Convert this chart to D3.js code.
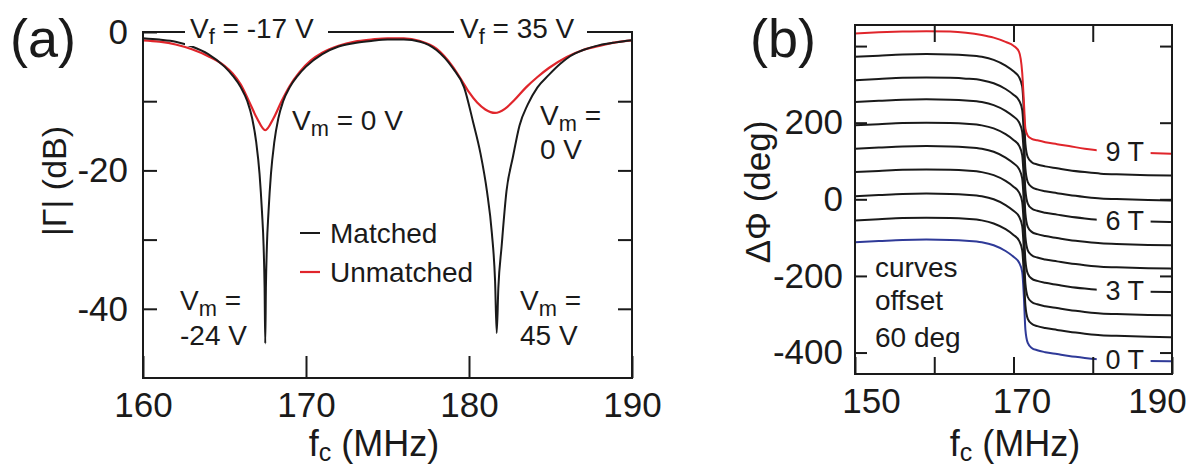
<!DOCTYPE html>
<html><head><meta charset="utf-8">
<script src="https://cdn.jsdelivr.net/npm/d3@7"></script>
<style>body{margin:0;background:#fff} svg{display:block}</style>
</head><body><svg id="c" width="1195" height="472"></svg>
<script>
// ---------- data: panel (a) reflection coefficient ----------
const fMatched = [160,161,162,163,164,165,165.5,166,166.4,166.7,166.95,167.15,167.3,167.4,167.46,167.5,167.54,167.6,167.7,167.85,168.05,168.3,168.6,169,169.5,170,171,172,173,174,175,176,177,178,179,179.7,180.25,180.7,181.1,181.4,181.6,181.7,181.8,182,182.3,182.7,183.1,183.6,184.2,184.9,185.6,186.2,187,188,189,190];
const gammaMatched = [-0.9,-1.1,-1.4,-2.1,-3.2,-5.0,-6.3,-8.0,-10.0,-12.5,-16,-20.5,-26,-31,-37,-45,-37,-31,-26,-20.5,-16,-12.5,-10.0,-8.0,-6.3,-5.0,-3.2,-2.1,-1.6,-1.3,-1.1,-1.1,-1.4,-2.6,-5.2,-8,-13,-17.5,-23,-29,-36,-43.5,-37,-31,-23,-18,-13.5,-10.5,-8,-6.2,-4.6,-3.5,-2.6,-1.9,-1.5,-1.2];
const fUnmatched = [160,161,162,163,164,165,165.5,166,166.5,167,167.5,168,168.5,169,169.6,170.3,171,172,173,174,175,176,177,178,179,179.5,180,180.5,181,181.6,182.2,182.8,183.5,184.2,184.9,186,187,188,189,190];
const gammaUnmatched = [-1.2,-1.4,-1.8,-2.5,-3.5,-4.9,-6.0,-7.6,-10.0,-12.5,-14.2,-12.5,-10.0,-7.8,-5.8,-4.1,-3.0,-2.0,-1.4,-1.1,-0.9,-0.9,-1.3,-2.4,-5.0,-6.8,-8.7,-10.2,-11.2,-11.7,-11.1,-9.8,-8.0,-6.5,-5.2,-3.6,-2.6,-2.0,-1.5,-1.2];
const aXTicks = [160,170,180,190];
const aYTicks = [0,-10,-20,-30,-40];
const aYLabels = [0,-20,-40];

// ---------- data: panel (b) phase shift vs field ----------
const fB = [150,153,156,159,162,164,166,167.5,169,170,170.7,171.1,171.3,171.5,171.8,172.3,173,174,175.5,177,179,181,184,187,190];
const phase0T = [-112,-109,-106,-105,-106,-108,-112,-120,-135,-150,-165,-190,-250,-340,-375,-388,-394,-399,-404,-409,-414,-418,-420,-422,-423];
const phase1T = [-55,-52,-49,-48,-49,-51,-55,-63,-78,-93,-108,-133,-193,-277,-312,-325,-331,-336,-341,-346,-351,-355,-357,-359,-360];
const phase2T = [8,11,14,15,14,12,8,0,-15,-30,-45,-70,-130,-220,-255,-268,-274,-279,-284,-289,-294,-298,-300,-302,-303];
const phase3T = [71,74,77,78,77,75,71,63,48,33,18,-7,-67,-159,-194,-207,-213,-218,-223,-228,-233,-237,-239,-241,-242];
const phase4T = [132,135,138,139,138,136,132,124,109,94,79,54,-6,-98,-133,-146,-152,-157,-162,-167,-172,-176,-178,-180,-181];
const phase5T = [193,196,199,200,199,197,193,185,170,155,140,115,55,-37,-72,-85,-91,-96,-101,-106,-111,-115,-117,-119,-120];
const phase6T = [254,257,260,261,260,258,254,246,231,216,201,176,116,24,-11,-24,-30,-35,-40,-45,-50,-54,-56,-58,-59];
const phase7T = [311,314,317,318,317,315,311,303,288,273,258,233,173,80,45,32,26,21,16,11,6,2,0,-2,-3];
const phase8T = [372,375,378,379,378,376,372,364,349,334,319,294,234,145,110,97,91,86,81,76,71,67,65,63,62];
const phase9T = [433,436,438,439,438,435,429,422,411,401,385,330,260,185,166,158,154,149,144,139,132,127,124,121,119];
const phaseSeries = [phase0T,phase1T,phase2T,phase3T,phase4T,phase5T,phase6T,phase7T,phase8T,phase9T];
const fieldLabels = ["0 T","3 T","6 T","9 T"];
const fieldLabelIdx = [0,3,6,9];
const bXTicks = [150,160,170,180,190];
const bXLabels = [150,170,190];
const bYTicks = [400,200,0,-200,-400];
const bYLabels = [200,0,-200,-400];

// ---------- drawing ----------
const FONT = '"Liberation Sans", Arial, Helvetica, sans-serif';
const INK = "#1a1a1a", RED = "#e0252b", BLUE = "#2f3a98";
const svg = d3.select("#c");

function styleAxis(g, fs){
  g.select(".domain").remove();
  g.selectAll(".tick line").attr("stroke", INK).attr("stroke-width", 2);
  g.selectAll(".tick text").attr("font-family", FONT).attr("font-size", fs).attr("fill", INK);
  return g;
}
function txt(g, x, y, s, fs, anchor){
  return g.append("text").attr("x", x).attr("y", y).attr("font-family", FONT)
    .attr("font-size", fs).attr("fill", INK).attr("text-anchor", anchor || "start").text(s);
}
function subText(g, x, y, main, sub, rest, fs, anchor){
  const t = g.append("text").attr("x", x).attr("y", y).attr("font-family", FONT)
    .attr("font-size", fs).attr("fill", INK).attr("text-anchor", anchor || "start");
  t.append("tspan").text(main);
  t.append("tspan").attr("font-size", fs*0.78).attr("dy", fs*0.22).text(sub);
  t.append("tspan").attr("dy", -fs*0.22).text(rest);
  return t;
}

// ===== Panel (a) =====
const xa = d3.scaleLinear().domain([160,190]).range([143,632]);
const ya = d3.scaleLinear().domain([-50,0]).range([378,32]);
const ga = svg.append("g");
const lineA = d3.line().x(d=>xa(d[0])).y(d=>ya(d[1])).curve(d3.curveMonotoneX);
ga.append("path").datum(fUnmatched.map((f,i)=>[f,gammaUnmatched[i]]))
  .attr("d", lineA).attr("fill","none").attr("stroke",RED).attr("stroke-width",2.2);
ga.append("path").datum(fMatched.map((f,i)=>[f,gammaMatched[i]]))
  .attr("d", lineA).attr("fill","none").attr("stroke",INK).attr("stroke-width",2);

ga.append("rect").attr("x",xa(160)).attr("y",ya(0)).attr("width",xa(190)-xa(160)).attr("height",ya(-50)-ya(0))
  .attr("fill","none").attr("stroke",INK).attr("stroke-width",2);
styleAxis(ga.append("g").attr("transform",`translate(${xa(160)},0)`)
  .call(d3.axisLeft(ya).tickValues(aYTicks).tickFormat(d=>aYLabels.includes(d)?String(d):"")
  .tickSizeInner(-14).tickSizeOuter(0).tickPadding(15)), 35);
styleAxis(ga.append("g").attr("transform",`translate(${xa(190)},0)`)
  .call(d3.axisRight(ya).tickValues(aYTicks.filter(d=>d!==0)).tickFormat("")
  .tickSizeInner(-14).tickSizeOuter(0)), 35);
styleAxis(ga.append("g").attr("transform",`translate(0,${ya(-50)})`)
  .call(d3.axisBottom(xa).tickValues(aXTicks).tickFormat(d=>String(d))
  .tickSizeInner(-22).tickSizeOuter(0).tickPadding(14)), 35);

ga.append("rect").attr("x",185).attr("y",16).attr("width",143).attr("height",30).attr("fill","#fff");
subText(ga, 190, 38, "V", "f", " = -17 V", 28);
ga.append("rect").attr("x",454).attr("y",16).attr("width",133).attr("height",30).attr("fill","#fff");
subText(ga, 460, 38, "V", "f", " = 35 V", 28);

subText(ga, 292, 130, "V", "m", " = 0 V", 28);
subText(ga, 540, 125, "V", "m", " =", 28);
txt(ga, 540, 159, "0 V", 28);
subText(ga, 180, 310, "V", "m", " =", 28);
txt(ga, 180, 345, "-24 V", 28);
subText(ga, 520, 310, "V", "m", " =", 28);
txt(ga, 520, 345, "45 V", 28);

ga.append("line").attr("x1",300).attr("x2",320).attr("y1",233).attr("y2",233).attr("stroke",INK).attr("stroke-width",2);
txt(ga, 330, 243, "Matched", 28);
ga.append("line").attr("x1",300).attr("x2",320).attr("y1",272).attr("y2",272).attr("stroke",RED).attr("stroke-width",2.2);
txt(ga, 330, 282, "Unmatched", 28);

const tA = ga.append("text").attr("x",374).attr("y",456).attr("font-family",FONT).attr("font-size",36).attr("fill",INK).attr("text-anchor","middle");
tA.append("tspan").text("f");
tA.append("tspan").attr("font-size",25).attr("dy",5).text("c");
tA.append("tspan").attr("dy",-5).text(" (MHz)");
ga.append("text").attr("transform","translate(66,181) rotate(-90)").attr("font-family",FONT).attr("font-size",34)
  .attr("fill",INK).attr("text-anchor","middle").text("|\u0393| (dB)");
txt(ga, 10, 57, "(a)", 54);

// ===== Panel (b) =====
const xb = d3.scaleLinear().domain([150,190]).range([855,1172]);
const yb = d3.scaleLinear().domain([-456,455]).range([374,25]);
const gb = svg.append("g");
const lineB = d3.line().x(d=>xb(d[0])).y(d=>yb(d[1])).curve(d3.curveMonotoneX);
phaseSeries.forEach((s,k)=>{
  gb.append("path").datum(fB.map((f,i)=>[f,s[i]])).attr("d", lineB).attr("fill","none")
    .attr("stroke", k===9?RED:(k===0?BLUE:INK)).attr("stroke-width",2);
});
fieldLabelIdx.forEach((k,j)=>{
  const yv = yb(phaseSeries[k][fB.indexOf(181)]);
  const yEnd = yb(phaseSeries[k][phaseSeries[k].length-1]);
  const yc = (yv+yEnd)/2;
  gb.append("rect").attr("x",xb(180.5)).attr("y",yc-16).attr("width",xb(187.3)-xb(180.5)).attr("height",30).attr("fill","#fff");
  txt(gb, xb(181.6), yc+9, fieldLabels[j], 27);
});

gb.append("rect").attr("x",xb(150)).attr("y",yb(455)).attr("width",xb(190)-xb(150)).attr("height",yb(-456)-yb(455))
  .attr("fill","none").attr("stroke",INK).attr("stroke-width",2);
styleAxis(gb.append("g").attr("transform",`translate(${xb(150)},0)`)
  .call(d3.axisLeft(yb).tickValues(bYTicks).tickFormat(d=>bYLabels.includes(d)?String(d):"")
  .tickSizeInner(-12).tickSizeOuter(0).tickPadding(12)), 35);
styleAxis(gb.append("g").attr("transform",`translate(${xb(190)},0)`)
  .call(d3.axisRight(yb).tickValues(bYTicks).tickFormat("").tickSizeInner(-12).tickSizeOuter(0)), 35);
const bxAxis = styleAxis(gb.append("g").attr("transform",`translate(0,${yb(-456)})`)
  .call(d3.axisBottom(xb).tickValues(bXTicks).tickFormat(d=>bXLabels.includes(d)?String(d):"")
  .tickSizeInner(-17).tickSizeOuter(0).tickPadding(14)), 35);
// label placement as in the reference (150 and 170 sit right of their ticks, 190 left of its tick)
bxAxis.selectAll(".tick text").attr("dx", d => d===150 ? 16 : d===170 ? 8 : d===190 ? -15 : 0);
styleAxis(gb.append("g").attr("transform",`translate(0,${yb(455)})`)
  .call(d3.axisTop(xb).tickValues(bXTicks.slice(1,4)).tickFormat("").tickSizeInner(-17).tickSizeOuter(0)), 35);

txt(gb, 875, 277, "curves", 28);
txt(gb, 875, 310, "offset", 28);
txt(gb, 875, 347, "60 deg", 28);

const tB = gb.append("text").attr("x",1015).attr("y",456).attr("font-family",FONT).attr("font-size",36).attr("fill",INK).attr("text-anchor","middle");
tB.append("tspan").text("f");
tB.append("tspan").attr("font-size",25).attr("dy",5).text("c");
tB.append("tspan").attr("dy",-5).text(" (MHz)");
gb.append("text").attr("transform","translate(770,192) rotate(-90)").attr("font-family",FONT).attr("font-size",35)
  .attr("fill",INK).attr("text-anchor","middle").text("\u0394\u03A6 (deg)");
txt(gb, 750, 57, "(b)", 54);
</script></body></html>
